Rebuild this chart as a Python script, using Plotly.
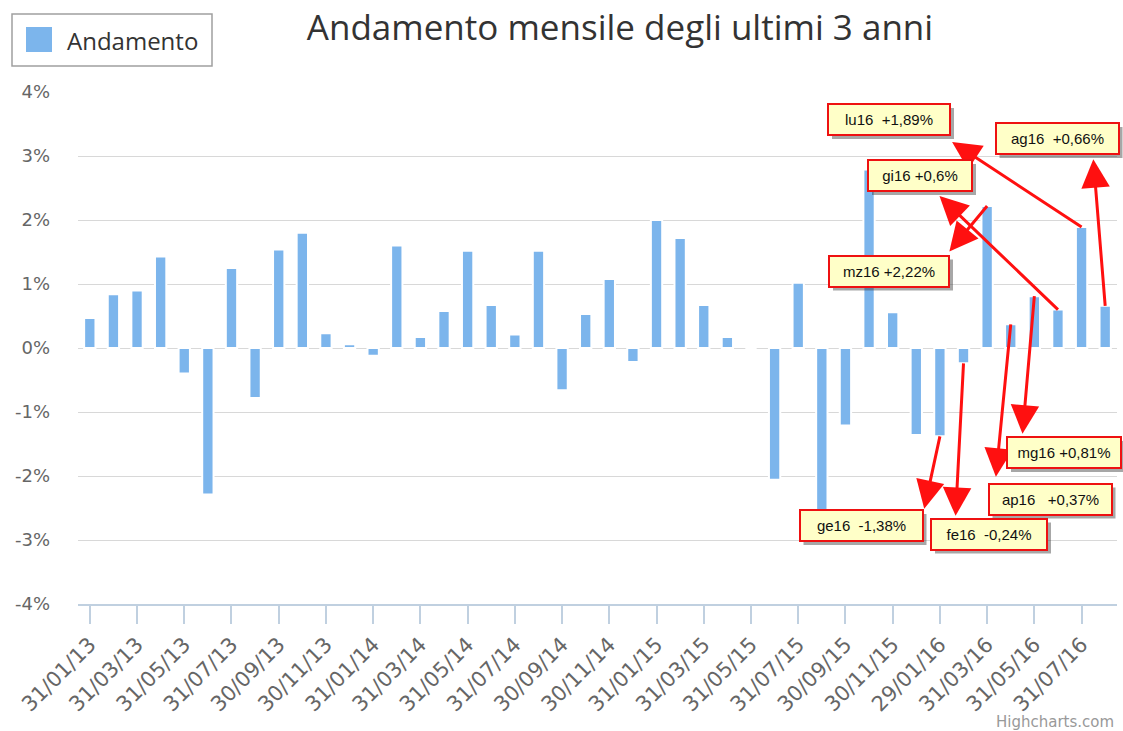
import plotly.graph_objects as go

# ---------------- data ----------------
categories = [
    "31/01/13", "28/02/13", "31/03/13", "30/04/13", "31/05/13", "30/06/13",
    "31/07/13", "31/08/13", "30/09/13", "31/10/13", "30/11/13", "31/12/13",
    "31/01/14", "28/02/14", "31/03/14", "30/04/14", "31/05/14", "30/06/14",
    "31/07/14", "31/08/14", "30/09/14", "31/10/14", "30/11/14", "31/12/14",
    "31/01/15", "28/02/15", "31/03/15", "30/04/15", "31/05/15", "30/06/15",
    "31/07/15", "31/08/15", "30/09/15", "31/10/15", "30/11/15", "31/12/15",
    "29/01/16", "29/02/16", "31/03/16", "30/04/16", "31/05/16", "30/06/16",
    "31/07/16", "31/08/16",
]
values = [
    0.47, 0.84, 0.90, 1.43, -0.40, -2.29, 1.25, -0.78, 1.54, 1.80, 0.23, 0.06,
    -0.12, 1.60, 0.17, 0.58, 1.52, 0.67, 0.21, 1.52, -0.66, 0.53, 1.08, -0.22,
    2.00, 1.72, 0.67, 0.17, 0.00, -2.06, 1.02, -3.00, -1.21, 2.79, 0.56, -1.36,
    -1.38, -0.24, 2.22, 0.37, 0.81, 0.60, 1.89, 0.66,
]
series_name = "Andamento"
title_text = "Andamento mensile degli ultimi 3 anni"
x_tick_labels = categories[::2]
y_tick_values = [-4, -3, -2, -1, 0, 1, 2, 3, 4]
y_tick_labels = ["-4%", "-3%", "-2%", "-1%", "0%", "1%", "2%", "3%", "4%"]

# callouts: which bar (date) and the text of its note
note_dates = ["31/07/16", "31/08/16", "30/06/16", "31/03/16",
              "31/05/16", "30/04/16", "29/01/16", "29/02/16"]
note_texts = ["lu16&nbsp;&nbsp;+1,89%", "ag16&nbsp;&nbsp;+0,66%", "gi16 +0,6%",
              "mz16 +2,22%", "mg16 +0,81%", "ap16&nbsp;&nbsp;&nbsp;+0,37%",
              "ge16&nbsp;&nbsp;-1,38%", "fe16&nbsp;&nbsp;-0,24%"]

# ---------------- layout geometry (pixels) ----------------
W, H = 1123, 731
L, R, T, B = 78, 1117, 92, 604


def px_x(px):
    return (px - L) / (R - L)


def px_y(py):
    return (B - py) / (B - T)


# note box centre (px), size (px), and arrow-head offset from bar tip (px)
note_layout = [
    dict(cx=889, cy=119.5, w=122, h=31, dx=-131, dy=-86),
    dict(cx=1057, cy=138.5, w=123, h=31, dx=-12, dy=-148),
    dict(cx=920, cy=175.5, w=104, h=31, dx=-120, dy=-115),
    dict(cx=889, cy=271, w=120, h=31, dx=-39, dy=47),
    dict(cx=1064, cy=452.5, w=114, h=31, dx=-12, dy=139),
    dict(cx=1050, cy=499, w=123, h=31, dx=-15, dy=154),
    dict(cx=861, cy=525.5, w=123, h=31, dx=-16, dy=74),
    dict(cx=989, cy=534, w=116, h=31, dx=-8, dy=154),
]

fig = go.Figure()
fig.add_trace(go.Bar(
    x=categories, y=values, name=series_name,
    marker=dict(color="#7cb5ec", line=dict(color="#ffffff", width=2)),
    showlegend=False,
))

annotations = []
shapes = []

# arrows (tail at bar tip, head near the note box)
for d, lay in zip(note_dates, note_layout):
    i = categories.index(d)
    annotations.append(dict(
        x=d, y=values[i], xref="x", yref="y",
        ax=lay["dx"], ay=lay["dy"], axref="pixel", ayref="pixel",
        text="", showarrow=True, arrowside="start",
        startarrowhead=2, startarrowsize=1.9, arrowwidth=3,
        arrowcolor="#ff1010", startstandoff=0, standoff=0,
    ))

# note boxes with drop shadow (shadow as a shape)
for txt, lay in zip(note_texts, note_layout):
    x0 = lay["cx"] - lay["w"] / 2 + 4
    x1 = lay["cx"] + lay["w"] / 2 + 4
    y0 = lay["cy"] - lay["h"] / 2 + 4
    y1 = lay["cy"] + lay["h"] / 2 + 4
    shapes.append(dict(type="rect", xref="paper", yref="paper",
                       x0=px_x(x0), x1=px_x(x1), y0=px_y(y1), y1=px_y(y0),
                       line=dict(width=0), fillcolor="rgba(60,60,60,0.45)",
                       layer="above"))
    annotations.append(dict(
        x=px_x(lay["cx"]), y=px_y(lay["cy"]), xref="paper", yref="paper",
        xanchor="center", yanchor="middle", showarrow=False, text=txt,
        width=lay["w"] - 6, height=lay["h"] - 6, borderpad=2, borderwidth=2,
        font=dict(family="Liberation Sans, Arial", size=15, color="#111111"),
        align="center", bgcolor="#ffffc8", bordercolor="#ee1111",
    ))

# manual legend
shapes.append(dict(type="rect", xref="paper", yref="paper",
                   x0=px_x(12), x1=px_x(212), y0=px_y(66), y1=px_y(14),
                   line=dict(color="#a0a0a0", width=1.5), fillcolor="#ffffff",
                   layer="above"))
shapes.append(dict(type="rect", xref="paper", yref="paper",
                   x0=px_x(26), x1=px_x(52), y0=px_y(52), y1=px_y(27),
                   line=dict(width=0), fillcolor="#7cb5ec", layer="above"))
annotations.append(dict(x=px_x(65), y=px_y(40), xref="paper", yref="paper",
                        xanchor="left", yanchor="middle", showarrow=False,
                        text=series_name,
                        font=dict(family="Open Sans", size=24, color="#333333")))

# credit
annotations.append(dict(x=px_x(1116), y=px_y(722), xref="paper", yref="paper",
                        xanchor="right", yanchor="middle", showarrow=False,
                        text="Highcharts.com",
                        font=dict(family="DejaVu Sans", size=15, color="#999999")))

fig.update_layout(
    width=W, height=H,
    margin=dict(l=L, r=W - R, t=T, b=H - B, pad=0),
    paper_bgcolor="#ffffff", plot_bgcolor="#ffffff",
    bargap=0.52,
    title=dict(text=title_text, x=620 / W, xref="container", xanchor="center",
               y=1 - 28 / H, yref="container", yanchor="middle",
               font=dict(family="Open Sans", size=35, color="#333333")),
    xaxis=dict(type="category", categoryorder="array", categoryarray=categories,
               range=[-0.5, len(categories) - 0.5],
               tickmode="array", tickvals=x_tick_labels, ticktext=x_tick_labels,
               tickangle=-45, ticks="outside", ticklen=18, tickwidth=1.5,
               tickcolor="#c0d0e0", showline=True, linecolor="#c0d0e0",
               linewidth=2, showgrid=False, zeroline=False,
               tickfont=dict(family="DejaVu Sans", size=21, color="#666666")),
    yaxis=dict(range=[-4, 4], tickmode="array", tickvals=y_tick_values,
               ticktext=y_tick_labels, showgrid=True, gridcolor="#d8d8d8",
               gridwidth=1.3, zeroline=False, showline=False, ticks="",
               ticklabelstandoff=27,
               tickfont=dict(family="DejaVu Sans", size=18, color="#666666")),
    annotations=annotations,
    shapes=shapes,
    font=dict(family="DejaVu Sans"),
)

fig.write_html("out.html", config={"displayModeBar": False},
               post_script="document.body.style.margin='0';")
